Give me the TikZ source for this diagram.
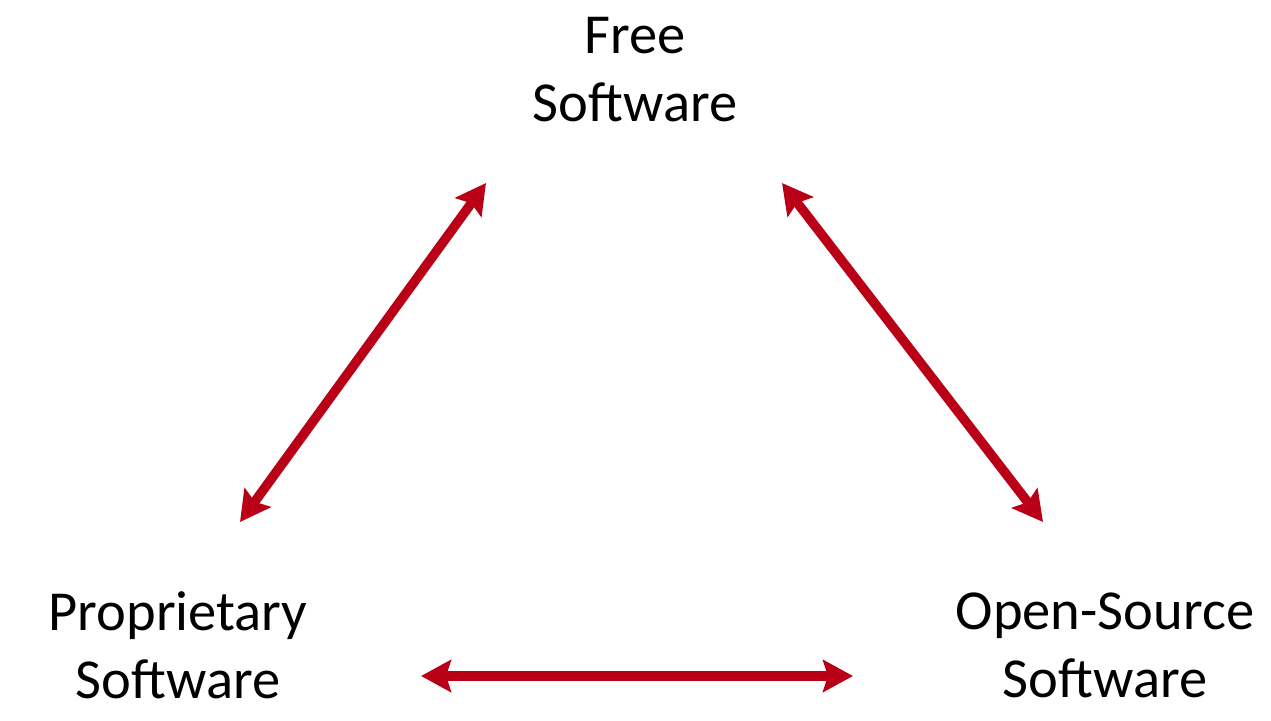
\documentclass[tikz,border=0pt]{standalone}
\usepackage{fontspec}
\setmainfont{Carlito}
\usetikzlibrary{arrows.meta}
\definecolor{arrowred}{RGB}{185,0,22}
\tikzset{
  label/.style={align=center, font=\fontsize{56.5}{68}\selectfont, inner sep=0pt},
  link/.style={draw=arrowred, line width=9.5pt,
    {Stealth[length=30pt, width=32pt, inset=5pt]}-{Stealth[length=30pt, width=32pt, inset=5pt]}}
}
\begin{document}
\begin{tikzpicture}[x=1pt,y=-1pt]
\useasboundingbox (0,0) rectangle (1271,720);
\node[label] (free) at (635,70) {Free\\Software};
\node[label] (prop) at (178,645) {Proprietary\\Software};
\node[label] (open) at (1105,645) {Open-Source\\Software};
\coordinate (fl) at (486,183);
\coordinate (pl) at (240,522);
\coordinate (fr) at (782,183);
\coordinate (or) at (1043,522);
\coordinate (pr) at (421,676);
\coordinate (ol) at (853,676);
\draw[link] (pl) -- (fl);
\draw[link] (fr) -- (or);
\draw[link] (pr) -- (ol);
\end{tikzpicture}
\end{document}
